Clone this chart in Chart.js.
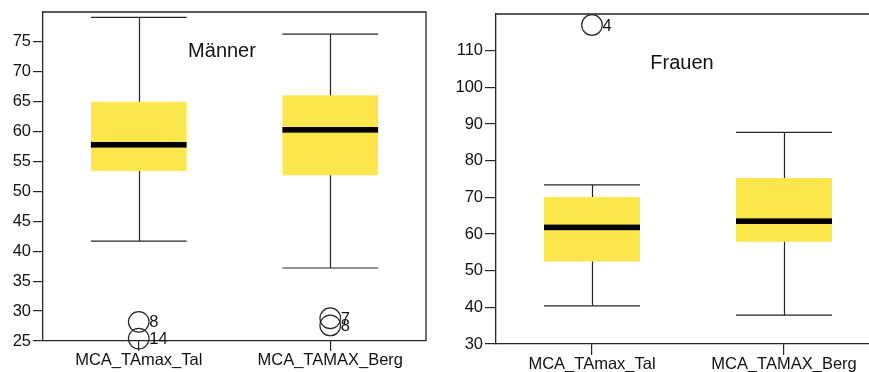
<!DOCTYPE html>
<html><head><meta charset="utf-8">
<script src="https://cdn.jsdelivr.net/npm/chart.js@4/dist/chart.umd.min.js"></script>
<style>
html,body{margin:0;padding:0;background:#fff;overflow:hidden;width:869px;height:372px;}
#c1{position:absolute;left:0;top:0;}
#c2{position:absolute;left:430px;top:0;}
</style></head><body>
<canvas id="c1" width="440" height="372"></canvas>
<canvas id="c2" width="470" height="372"></canvas>
<script>
// ---- data ----
const categories = ['MCA_TAmax_Tal', 'MCA_TAMAX_Berg'];

const menWhiskerLow  = [41.7, 37.2];
const menQ1          = [53.4, 52.7];
const menMedian      = [57.8, 60.3];
const menQ3          = [65.0, 66.1];
const menWhiskerHigh = [79.1, 76.3];
const menOutlierCategory = [0, 0, 1, 1];
const menOutlierValue    = [28.2, 25.4, 28.8, 27.6];
const menOutlierId       = ['8', '14', '7', '8'];
const menTicks = [25, 30, 35, 40, 45, 50, 55, 60, 65, 70, 75];

const womenWhiskerLow  = [40.4, 37.9];
const womenQ1          = [52.5, 57.9];
const womenMedian      = [61.8, 63.5];
const womenQ3          = [70.1, 75.3];
const womenWhiskerHigh = [73.4, 87.7];
const womenOutlierCategory = [0];
const womenOutlierValue    = [117.0];
const womenOutlierId       = ['4'];
const womenTicks = [30, 40, 50, 60, 70, 80, 90, 100, 110];

// ---- styling ----
const FONT = '"Liberation Sans", Arial, Helvetica, sans-serif';
const LINE = '#262626';
const YELLOW = '#fce74f';

const boxDecor = {
  id: 'boxDecor',
  afterDatasetsDraw(chart, args, o) {
    const ctx = chart.ctx, ys = chart.scales.y;
    const boxMeta = chart.getDatasetMeta(0);
    ctx.save();
    ctx.strokeStyle = LINE;
    ctx.lineWidth = 1.2;
    boxMeta.data.forEach((el, i) => {
      const cx = Math.round(el.x) + 0.5, half = el.width / 2;
      const yl = ys.getPixelForValue(o.low[i]), y1 = ys.getPixelForValue(o.q1[i]);
      const y3 = ys.getPixelForValue(o.q3[i]), yh = ys.getPixelForValue(o.high[i]);
      ctx.beginPath();
      ctx.moveTo(cx, yl); ctx.lineTo(cx, y1);
      ctx.moveTo(cx, y3); ctx.lineTo(cx, yh);
      ctx.moveTo(el.x - half, yl); ctx.lineTo(el.x + half, yl);
      ctx.moveTo(el.x - half, yh); ctx.lineTo(el.x + half, yh);
      ctx.stroke();
      const ym = ys.getPixelForValue(o.median[i]);
      ctx.fillStyle = '#000';
      ctx.fillRect(el.x - half, ym - 2.8, el.width, 5.6);
    });
    // outlier ids
    const outMeta = chart.getDatasetMeta(1);
    ctx.fillStyle = '#111';
    ctx.font = '16.5px ' + FONT;
    ctx.textAlign = 'left';
    ctx.textBaseline = 'middle';
    outMeta.data.forEach((p, i) => {
      ctx.fillText(o.ids[i], p.x + 10.5, p.y + 1);
    });
    ctx.restore();
  },
  afterDraw(chart, args, o) {
    const ctx = chart.ctx, a = chart.chartArea;
    ctx.save();
    ctx.strokeStyle = LINE;
    ctx.lineWidth = 1.3;
    ctx.beginPath();
    ctx.moveTo(a.left, a.top); ctx.lineTo(a.right, a.top); ctx.lineTo(a.right, a.bottom);
    ctx.stroke();
    ctx.fillStyle = '#111';
    ctx.font = '20px ' + FONT;
    ctx.textAlign = 'center';
    ctx.textBaseline = 'alphabetic';
    ctx.fillText(o.title, o.titleX, o.titleY);
    ctx.restore();
  }
};

function makeChart(id, d) {
  return new Chart(document.getElementById(id), {
    type: 'bar',
    data: {
      labels: categories,
      datasets: [
        {
          type: 'bar',
          data: categories.map((c, i) => [d.q1[i], d.q3[i]]),
          backgroundColor: YELLOW,
          borderWidth: 0,
          barPercentage: 0.5,
          categoryPercentage: 1.0
        },
        {
          type: 'line',
          data: d.outCat.map((c, i) => ({ x: categories[c], y: d.outVal[i] })),
          showLine: false,
          pointRadius: 10.3,
          pointBorderWidth: 1.2,
          pointBorderColor: LINE,
          pointBackgroundColor: 'rgba(0,0,0,0)',
          clip: false
        }
      ]
    },
    options: {
      responsive: false,
      animation: false,
      devicePixelRatio: 1,
      events: [],
      layout: { padding: { top: d.padTop, right: d.padRight, left: 0, bottom: 0 } },
      plugins: {
        legend: { display: false },
        tooltip: { enabled: false },
        boxDecor: {
          low: d.low, q1: d.q1, median: d.median, q3: d.q3, high: d.high,
          ids: d.ids, title: d.title, titleX: d.titleX, titleY: d.titleY
        }
      },
      scales: {
        x: {
          offset: true,
          grid: { display: true, offset: false, drawOnChartArea: false, drawTicks: true, tickLength: d.xTick, color: LINE, lineWidth: 1.2 },
          border: { display: true, color: LINE, width: 1.3 },
          ticks: { color: '#111', font: { family: FONT, size: 16.5 }, padding: 0, maxRotation: 0, autoSkip: false },
          afterFit(s) { s.height = d.xHeight; }
        },
        y: {
          min: d.min, max: d.max,
          afterBuildTicks(s) { s.ticks = d.ticks.map(v => ({ value: v })); },
          grid: { display: true, drawOnChartArea: false, drawTicks: true, tickLength: d.yTick, color: LINE, lineWidth: 1.2 },
          border: { display: true, color: LINE, width: 1.3 },
          ticks: { color: '#111', font: { family: FONT, size: 16.5 }, padding: 2 },
          afterFit(s) { s.width = d.yWidth; }
        }
      }
    },
    plugins: [boxDecor]
  });
}

makeChart('c1', {
  low: menWhiskerLow, q1: menQ1, median: menMedian, q3: menQ3, high: menWhiskerHigh,
  outCat: menOutlierCategory, outVal: menOutlierValue, ids: menOutlierId, ticks: menTicks,
  min: 25, max: 80, title: 'Männer', titleX: 222, titleY: 57,
  padTop: 12, padRight: 14, xHeight: 31, yWidth: 43, xTick: 10, yTick: 10
});
makeChart('c2', {
  low: womenWhiskerLow, q1: womenQ1, median: womenMedian, q3: womenQ3, high: womenWhiskerHigh,
  outCat: womenOutlierCategory, outVal: womenOutlierValue, ids: womenOutlierId, ticks: womenTicks,
  min: 30, max: 120, title: 'Frauen', titleX: 252, titleY: 69,
  padTop: 14, padRight: 20, xHeight: 28, yWidth: 66, xTick: 11, yTick: 11
});
</script>
</body></html>
